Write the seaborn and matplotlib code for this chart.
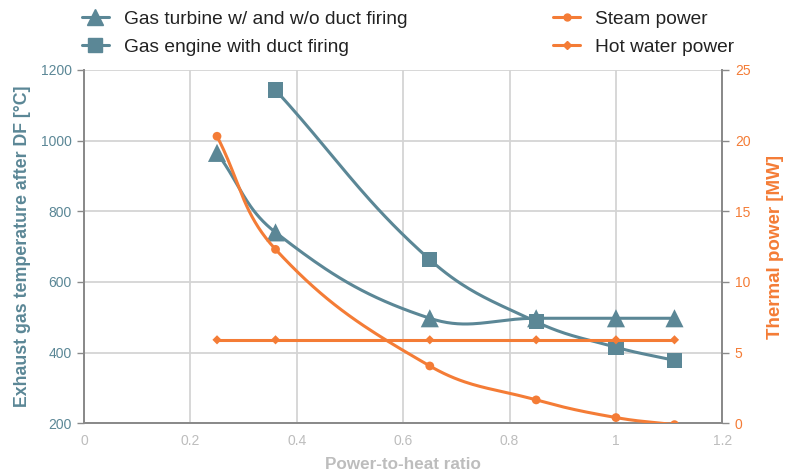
import numpy as np
import pandas as pd
import matplotlib
matplotlib.use("Agg")
import matplotlib.pyplot as plt
import seaborn as sns
from matplotlib.lines import Line2D

# data
turbine_x = [0.25, 0.36, 0.65, 0.85, 1.0, 1.11]
turbine_temp = [965, 740, 497, 497, 497, 497]
engine_x = [0.36, 0.65, 0.85, 1.0, 1.11]
engine_temp = [1143, 663, 487, 415, 378]
power_x = [0.25, 0.36, 0.65, 0.85, 1.0, 1.11]
steam_mw = [20.3, 12.3, 4.05, 1.65, 0.4, -0.1]
hotwater_mw = [5.9, 5.9, 5.9, 5.9, 5.9, 5.9]

TEAL = "#5b8796"
ORANGE = "#f47c36"
GRID = "#d4d4d4"
XGREY = "#bdbdbd"

XLIM = (0, 1.2)
PLOT_W, PLOT_H = 638, 353  # plot area in pixels, used for the curve tension


def smooth(x, y, ylim, tension=0.4, n=40):
    # cardinal-type bezier through the points, worked out in pixel space
    sx = PLOT_W / (XLIM[1] - XLIM[0])
    sy = PLOT_H / (ylim[1] - ylim[0])
    p = np.column_stack([np.asarray(x, float) * sx, np.asarray(y, float) * sy])
    k = len(p)
    cp_prev = p.copy()
    cp_next = p.copy()
    for i in range(k):
        prev = p[max(i - 1, 0)]
        nxt = p[min(i + 1, k - 1)]
        d01 = np.hypot(*(p[i] - prev))
        d12 = np.hypot(*(nxt - p[i]))
        tot = d01 + d12
        s01 = d01 / tot if tot else 0
        s12 = d12 / tot if tot else 0
        cp_prev[i] = p[i] - tension * s01 * (nxt - prev)
        cp_next[i] = p[i] + tension * s12 * (nxt - prev)
    pts = []
    t = np.linspace(0, 1, n)[:, None]
    for i in range(k - 1):
        a, b, c, d = p[i], cp_next[i], cp_prev[i + 1], p[i + 1]
        seg = (1 - t) ** 3 * a + 3 * (1 - t) ** 2 * t * b + 3 * (1 - t) * t ** 2 * c + t ** 3 * d
        pts.append(seg if i == 0 else seg[1:])
    pts = np.vstack(pts)
    return pd.DataFrame({"x": pts[:, 0] / sx, "y": pts[:, 1] / sy})


sns.set_style("white")
plt.rcParams["font.family"] = ["Liberation Sans", "DejaVu Sans"]

fig = plt.figure(figsize=(8.08, 4.75), dpi=100)
ax = fig.add_axes([0.104, 0.109, 0.790, 0.744])
ax2 = ax.twinx()

TEMP_LIM = (200, 1200)
MW_LIM = (0, 25)

# left axis series
sns.lineplot(data=smooth(turbine_x, turbine_temp, TEMP_LIM), x="x", y="y", ax=ax,
             color=TEAL, lw=2.2, sort=False, zorder=3)
sns.scatterplot(x=turbine_x, y=turbine_temp, ax=ax, marker="^", s=170,
                color=TEAL, edgecolor="none", zorder=4)
sns.lineplot(data=smooth(engine_x, engine_temp, TEMP_LIM), x="x", y="y", ax=ax,
             color=TEAL, lw=2.2, sort=False, zorder=3)
sns.scatterplot(x=engine_x, y=engine_temp, ax=ax, marker="s", s=120,
                color=TEAL, edgecolor="none", zorder=4)

# right axis series
sns.lineplot(data=smooth(power_x, steam_mw, MW_LIM), x="x", y="y", ax=ax2,
             color=ORANGE, lw=2.2, sort=False, zorder=3)
sns.scatterplot(x=power_x, y=steam_mw, ax=ax2, marker="o", s=40,
                color=ORANGE, edgecolor="none", zorder=4)
sns.lineplot(x=power_x, y=hotwater_mw, ax=ax2, color=ORANGE, lw=2.2, zorder=3)
sns.scatterplot(x=power_x, y=hotwater_mw, ax=ax2, marker="D", s=22,
                color=ORANGE, edgecolor="none", zorder=4)

ax.set_xlim(*XLIM)
ax.set_ylim(*TEMP_LIM)
ax2.set_ylim(*MW_LIM)
ax.set_xticks([0, 0.2, 0.4, 0.6, 0.8, 1.0, 1.2])
ax.set_xticklabels(["0", "0.2", "0.4", "0.6", "0.8", "1", "1.2"])
ax.set_yticks(range(200, 1201, 200))
ax2.set_yticks(range(0, 26, 5))

ax.grid(True, color=GRID, lw=1.3)
ax.set_axisbelow(True)
ax2.grid(False)

for a in (ax, ax2):
    a.spines["top"].set_visible(False)
    for s in ("left", "right", "bottom"):
        a.spines[s].set_color("#8a8a8a")
        a.spines[s].set_linewidth(1.3)

ax.tick_params(axis="y", colors="#8a8a8a", labelcolor=TEAL, labelsize=10,
               length=5, width=1, direction="out", left=True, pad=4)
ax.tick_params(axis="x", colors="#8a8a8a", labelcolor=XGREY, labelsize=10,
               length=0, pad=8)
ax2.tick_params(axis="y", colors="#8a8a8a", labelcolor=ORANGE, labelsize=10,
                length=5, width=1, direction="out", right=True, pad=4)

ax.set_xlabel("Power-to-heat ratio", color=XGREY, fontsize=12.3,
              fontweight="bold", labelpad=6)
ax.set_ylabel("Exhaust gas temperature after DF [°C]", color=TEAL,
              fontsize=12.8, fontweight="bold", labelpad=7)
ax2.set_ylabel("Thermal power [MW]", color=ORANGE, fontsize=13.5,
               fontweight="bold", labelpad=12)

handles = [
    Line2D([], [], color=TEAL, lw=2.2, marker="^", markersize=12),
    Line2D([], [], color=TEAL, lw=2.2, marker="s", markersize=10),
    Line2D([], [], color=ORANGE, lw=2.2, marker="o", markersize=5),
    Line2D([], [], color=ORANGE, lw=2.2, marker="D", markersize=4),
]
labels = ["Gas turbine w/ and w/o duct firing", "Gas engine with duct firing",
          "Steam power", "Hot water power"]
fig.legend(handles, labels, ncol=2, loc="upper left",
           bbox_to_anchor=(0.08, 1.015), frameon=False, fontsize=13.8,
           handlelength=1.4, handletextpad=0.8, columnspacing=7.6,
           labelspacing=0.55, labelcolor="#222222")

fig.savefig("out.png", dpi=100)
